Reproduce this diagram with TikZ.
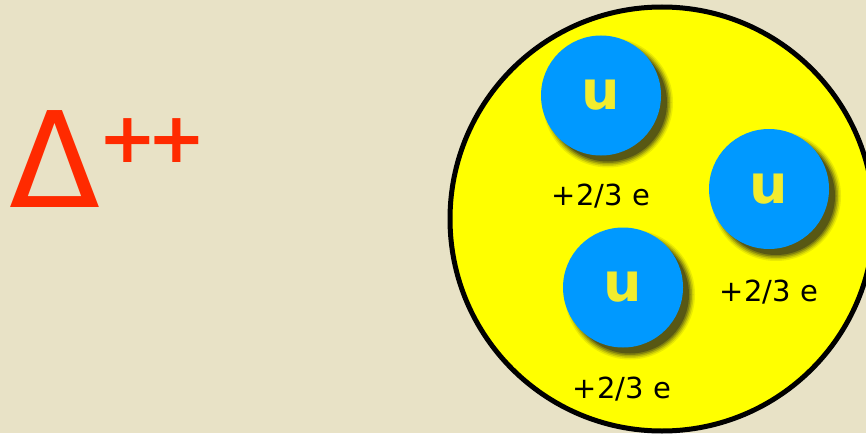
\documentclass[tikz,border=0pt]{standalone}
\usepackage{fontspec}
\setmainfont{DejaVu Sans}
\begin{document}
\begin{tikzpicture}[x=1pt,y=-1pt]
\definecolor{bg}{HTML}{E8E2C6}
\definecolor{redd}{HTML}{FF2A00}
\definecolor{quarkblue}{HTML}{0099FF}
\definecolor{uyellow}{HTML}{F2EC2E}
\definecolor{hyellow}{HTML}{FFFF00}
\definecolor{shad}{HTML}{33331A}
\tikzset{
  quark/.style={circle,fill=quarkblue,minimum size=120pt,inner sep=0pt,
    text=uyellow,font=\fontsize{54}{54}\selectfont\bfseries},
  charge/.style={font=\fontsize{29}{29}\selectfont,text=black,inner sep=0pt}
}
\fill[bg] (0,0) rectangle (866,433);
\useasboundingbox (0,0) rectangle (866,433);
\begin{scope}
\clip (0,0) rectangle (866,433);
\node[circle,fill=hyellow,draw=black,line width=5pt,minimum size=424pt,inner sep=0pt] (hadron) at (662,219) {};
\end{scope}
% shadows
\foreach \cx/\cy in {601/95.5,769/189,623/287.5}{
  \foreach \r/\o in {65/0.10,63.5/0.16,62/0.24,60.5/0.34,59/0.5}{
    \fill[shad,opacity=\o] (\cx+7,\cy+7) circle[radius=\r];
  }
}
\node[quark] (q1) at (601,95.5) {\raisebox{-6pt}{u}};
\node[quark] (q2) at (769,189) {\raisebox{-6pt}{u}};
\node[quark] (q3) at (623,287.5) {\raisebox{-6pt}{u}};
\node[charge] (c1) at (601,196) {+2/3 e};
\node[charge] (c2) at (769,292) {+2/3 e};
\node[charge] (c3) at (622,389) {+2/3 e};
\node[anchor=base west,inner sep=0pt,text=redd,font=\fontsize{133}{133}\selectfont] (delta) at (9,207) {Δ};
\node[anchor=west,inner sep=0pt,text=redd,font=\fontsize{70}{70}\selectfont\bfseries] (plus) at (98,141) {+\kern-9pt+};
\end{tikzpicture}
\end{document}
